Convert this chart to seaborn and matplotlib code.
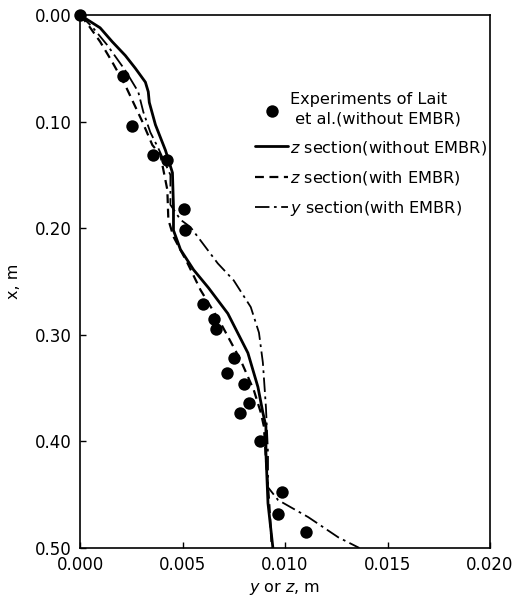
import numpy as np
import pandas as pd
import matplotlib
matplotlib.use("Agg")
import matplotlib.pyplot as plt
import seaborn as sns

# experiments of Lait et al. (without EMBR)
exp_x = [0.0, 0.00211, 0.00255, 0.00358, 0.00422, 0.00505, 0.00510, 0.00598, 0.00652, 0.00662,
         0.00750, 0.00716, 0.00799, 0.00824, 0.00779, 0.00877, 0.00985, 0.00966, 0.01103]
exp_depth = [0.0, 0.057, 0.104, 0.131, 0.136, 0.182, 0.202, 0.271, 0.285, 0.295,
             0.322, 0.336, 0.346, 0.364, 0.373, 0.400, 0.447, 0.468, 0.485]

# z section, without EMBR
z_noembr_x = [0.0, 0.00098, 0.00157, 0.00221, 0.00270, 0.00319, 0.00333, 0.00338, 0.00368, 0.00417,
              0.00451, 0.00456, 0.00456, 0.00490, 0.00554, 0.00627, 0.00721, 0.00819, 0.00868,
              0.00892, 0.00907, 0.00907, 0.00917, 0.00941]
z_noembr_depth = [0.0, 0.012, 0.025, 0.038, 0.050, 0.063, 0.072, 0.082, 0.103, 0.127,
                  0.148, 0.180, 0.202, 0.220, 0.239, 0.256, 0.280, 0.317, 0.349,
                  0.373, 0.386, 0.411, 0.458, 0.500]

# z section, with EMBR
z_embr_x = [0.0, 0.00039, 0.00098, 0.00157, 0.00221, 0.00260, 0.00304, 0.00353, 0.00392, 0.00426,
            0.00431, 0.00456, 0.00525, 0.00588, 0.00686, 0.00784, 0.00848, 0.00882, 0.00897,
            0.00907, 0.00922, 0.00936]
z_embr_depth = [0.0, 0.009, 0.025, 0.044, 0.066, 0.082, 0.100, 0.122, 0.131, 0.164,
                0.192, 0.208, 0.233, 0.258, 0.289, 0.324, 0.352, 0.373, 0.386,
                0.417, 0.455, 0.500]

# y section, with EMBR
y_embr_x = [0.0, 0.00059, 0.00132, 0.00221, 0.00284, 0.00309, 0.00343, 0.00382, 0.00441, 0.00441,
            0.00490, 0.00539, 0.00672, 0.00750, 0.00833, 0.00873, 0.00892, 0.00907, 0.00917,
            0.00917, 0.00966, 0.01113, 0.01260, 0.01363]
y_embr_depth = [0.0, 0.011, 0.028, 0.052, 0.072, 0.091, 0.110, 0.125, 0.150, 0.178,
                0.192, 0.199, 0.233, 0.249, 0.274, 0.298, 0.326, 0.368, 0.411,
                0.443, 0.455, 0.471, 0.490, 0.500]

x_ticks = [0.000, 0.005, 0.010, 0.015, 0.020]
y_ticks = [0.00, 0.10, 0.20, 0.30, 0.40, 0.50]

sns.set_style("ticks")
plt.rcParams['font.family'] = ['DejaVu Sans']
plt.rcParams['mathtext.fontset'] = 'dejavusans'
plt.rcParams['text.color'] = 'black'
plt.rcParams['axes.labelcolor'] = 'black'

fig = plt.figure(figsize=(5.14, 6.05), dpi=100)
ax = fig.add_axes([80 / 514, 1 - 548 / 605, 410 / 514, 533 / 605])

exp = pd.DataFrame({'x': exp_x, 'depth': exp_depth})
sns.scatterplot(data=exp, x='x', y='depth', ax=ax, color='black', s=80, edgecolor='black',
                linewidth=0, clip_on=False, zorder=5,
                label='Experiments of Lait\n et al.(without EMBR)')

sns.lineplot(x=z_noembr_x, y=z_noembr_depth, ax=ax, sort=False, estimator=None, color='black',
             linewidth=2.0, label=r'$z$ section(without EMBR)')
sns.lineplot(x=z_embr_x, y=z_embr_depth, ax=ax, sort=False, estimator=None, color='black',
             linewidth=1.6, linestyle=(0, (4, 2.5)), label=r'$z$ section(with EMBR)')
sns.lineplot(x=y_embr_x, y=y_embr_depth, ax=ax, sort=False, estimator=None, color='black',
             linewidth=1.3, linestyle=(0, (8, 2.5, 1.5, 2.5)), label=r'$y$ section(with EMBR)')

ax.set_xlim(0, 0.020)
ax.set_ylim(0.50, 0.00)
ax.set_xticks(x_ticks)
ax.set_xticklabels([f"{v:.3f}" for v in x_ticks])
ax.set_yticks(y_ticks)
ax.set_yticklabels([f"{v:.2f}" for v in y_ticks])
ax.tick_params(direction='in', length=4, width=1, labelsize=12, colors='black', pad=6)
for sp in ax.spines.values():
    sp.set_color('black')
    sp.set_linewidth(1.2)

ax.set_xlabel(r'$y$ or $z$, m', fontsize=11.5, labelpad=4)
ax.set_ylabel('x, m', fontsize=11.5, labelpad=10)

handles, labels = ax.get_legend_handles_labels()
leg = ax.legend(handles, labels, loc='upper left', bbox_to_anchor=(0.427, 0.855),
                frameon=False, fontsize=11.6, handlelength=2.05, handletextpad=0.1,
                labelspacing=0.75, borderaxespad=0, borderpad=0)
leg.get_texts()[0].set_linespacing(1.35)

fig.savefig('out.png', dpi=100)
